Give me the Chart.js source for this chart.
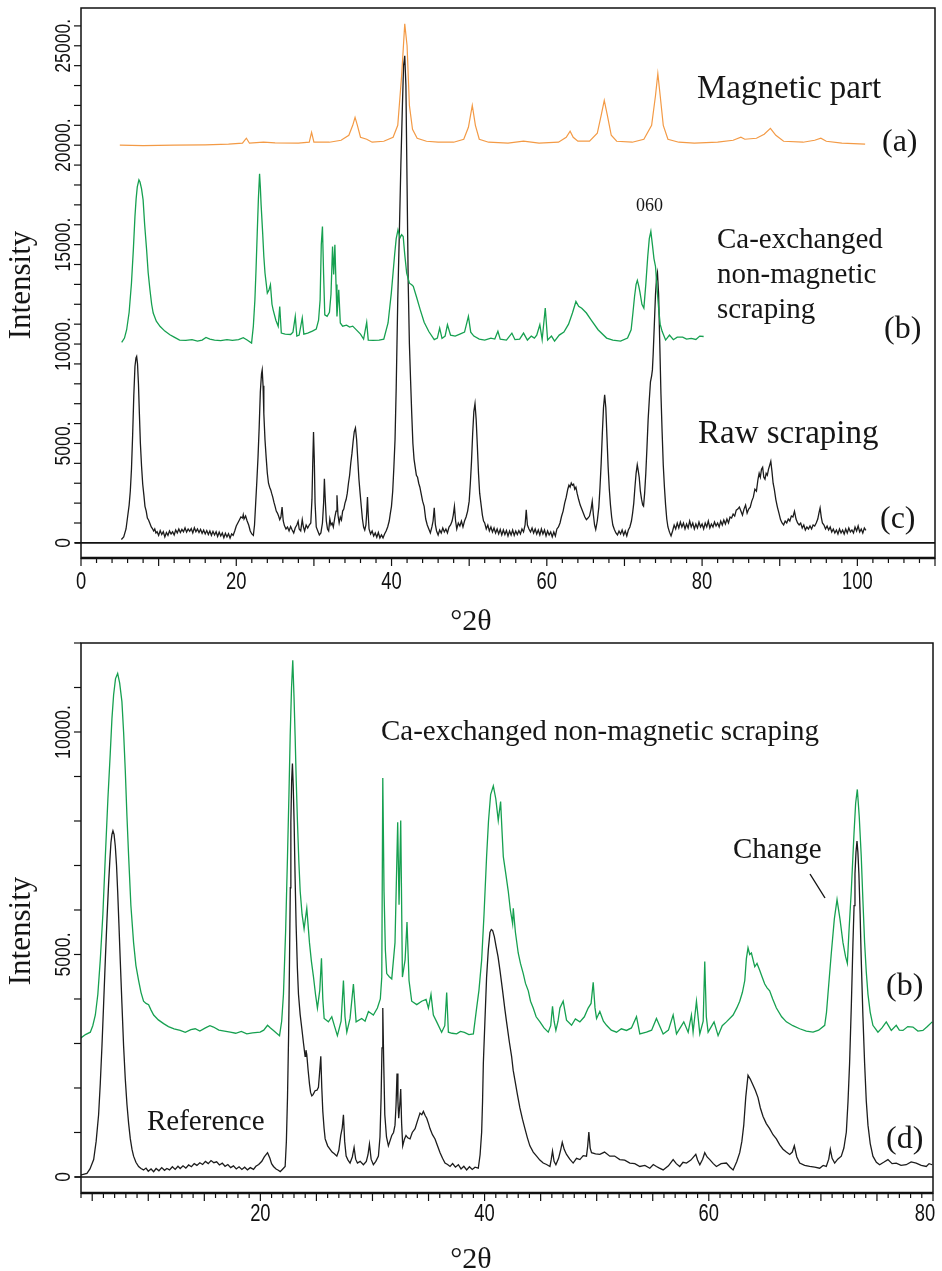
<!DOCTYPE html>
<html><head><meta charset="utf-8">
<script src="https://cdn.jsdelivr.net/npm/chart.js@4.4.1/dist/chart.umd.min.js"></script>
<style>
body{margin:0;background:#fff;width:942px;height:1271px;overflow:hidden;position:relative}
.wrap{position:absolute;left:0;width:942px}
#w1{top:0;height:640px}
#w2{top:640px;height:631px}
</style></head><body>
<div class="wrap" id="w1"><canvas id="c1" width="942" height="640"></canvas></div>
<div class="wrap" id="w2"><canvas id="c2" width="942" height="631"></canvas></div>
<script>
// ---------- DATA (2theta, intensity) ----------
const magneticPart = [[5.0,20000],[8.0,19980],[12.0,20000],[16.0,20020],[19.0,20050],[20.8,20100],[21.3,20350],[21.7,20100],[23.5,20150],[25.0,20120],[28.0,20100],[29.4,20150],[29.7,20650],[30.0,20150],[32.0,20150],[33.5,20250],[34.5,20500],[35.0,21000],[35.3,21400],[35.6,21000],[36.0,20400],[36.8,20300],[37.5,20150],[39.0,20200],[40.2,20400],[40.8,21000],[41.3,23500],[41.7,26100],[42.0,25000],[42.3,22000],[42.7,20800],[43.3,20350],[44.5,20200],[46.0,20150],[48.0,20150],[49.3,20300],[49.9,20900],[50.4,22000],[50.8,21000],[51.3,20300],[52.5,20150],[55.0,20100],[57.0,20200],[59.0,20100],[61.5,20150],[62.5,20400],[63.0,20700],[63.4,20400],[64.0,20200],[65.5,20200],[66.5,20600],[67.0,21500],[67.4,22250],[67.8,21500],[68.3,20500],[69.0,20200],[71.0,20150],[72.5,20300],[73.5,21000],[74.0,22500],[74.3,23600],[74.6,22500],[75.0,21000],[75.6,20300],[77.0,20150],[79.0,20100],[82.0,20150],[84.0,20250],[85.0,20400],[85.5,20300],[87.0,20350],[88.0,20550],[88.8,20850],[89.5,20500],[90.5,20200],[93.0,20150],[94.5,20250],[95.3,20350],[96.0,20200],[98.0,20100],[101.0,20050]];

const caExchangedTop = [[5.24,10080],[5.6,10300],[5.88,10720],[6.2,11600],[6.5,13060],[6.75,14800],[6.95,16410],[7.1,17300],[7.25,17900],[7.46,18260],[7.6,18150],[7.8,17800],[8.0,17250],[8.2,16000],[8.45,14740],[8.65,13600],[8.88,12730],[9.1,12000],[9.3,11560],[9.7,11150],[10.2,10880],[10.8,10650],[11.45,10470],[12.0,10350],[12.7,10200],[13.5,10180],[14.3,10220],[15.0,10150],[15.6,10200],[16.1,10330],[16.6,10250],[17.2,10200],[18.0,10170],[18.8,10220],[19.5,10180],[20.3,10220],[20.9,10320],[21.4,10200],[21.97,10050],[22.2,10900],[22.4,12230],[22.55,13800],[22.7,15580],[22.85,17300],[23.0,18560],[23.1,17900],[23.2,17000],[23.4,15580],[23.55,14400],[23.7,13570],[24.0,12560],[24.2,12700],[24.4,12980],[24.6,12000],[24.75,11720],[25.1,11200],[25.4,10890],[25.6,11890],[25.8,10550],[26.3,10500],[27.0,10480],[27.3,10600],[27.6,11390],[27.8,10400],[28.1,10450],[28.5,11310],[28.7,10500],[29.2,10550],[29.8,10650],[30.3,10750],[30.6,11200],[30.8,12230],[30.95,15000],[31.1,15910],[31.25,13500],[31.4,11470],[31.7,11390],[32.0,11600],[32.2,12500],[32.4,14900],[32.55,13500],[32.7,14990],[32.85,13000],[32.97,11390],[33.2,12730],[33.4,11060],[33.7,10900],[34.2,10950],[34.6,10850],[35.0,10900],[35.5,10700],[36.0,10500],[36.4,10250],[36.8,11090],[37.0,10200],[37.6,10180],[38.4,10200],[39.0,10250],[39.55,11060],[39.97,12560],[40.2,13600],[40.4,14500],[40.6,15300],[40.83,15740],[41.1,15350],[41.3,15500],[41.5,15410],[41.7,14500],[41.95,13570],[42.3,13060],[42.6,12980],[42.8,12900],[43.2,12390],[43.7,11720],[44.2,11100],[44.8,10630],[45.5,10220],[45.9,10300],[46.2,10800],[46.5,10280],[46.9,10400],[47.2,10970],[47.6,10450],[48.2,10400],[48.8,10500],[49.4,10600],[49.9,11390],[50.2,10600],[50.6,10400],[51.3,10250],[52.0,10200],[52.8,10300],[53.3,10250],[53.7,10640],[54.0,10250],[54.8,10200],[55.5,10550],[55.9,10220],[56.5,10250],[57.0,10550],[57.5,10200],[58.0,10400],[58.4,10300],[58.7,10450],[59.1,10970],[59.4,10220],[59.8,11810],[60.1,10200],[60.6,10400],[61.0,10150],[61.6,10450],[62.2,10600],[62.8,11000],[63.3,11560],[63.75,12140],[64.1,11900],[64.5,11800],[65.1,11560],[65.7,11220],[66.6,10720],[67.7,10300],[68.5,10200],[69.5,10150],[70.4,10300],[70.86,10720],[71.1,11600],[71.3,12390],[71.5,13000],[71.66,13200],[71.85,12900],[72.0,12600],[72.25,12000],[72.5,11810],[72.75,13000],[73.0,14400],[73.2,15300],[73.4,15660],[73.6,15000],[73.8,14300],[74.0,13900],[74.2,12800],[74.4,11810],[74.6,11000],[74.85,10640],[75.3,10200],[75.8,10450],[76.3,10220],[76.8,10350],[77.5,10350],[78.0,10250],[78.6,10280],[79.2,10230],[79.7,10400],[80.2,10380]];

const rawScraping = [[5.2,170],[5.5,300],[5.8,700],[6.0,1300],[6.2,1900],[6.35,2600],[6.5,3700],[6.65,5400],[6.8,7400],[6.95,8870],[7.08,9300],[7.17,9380],[7.28,9000],[7.4,8000],[7.52,6500],[7.65,5000],[7.8,3850],[7.95,2950],[8.1,2400],[8.24,1840],[8.4,1600],[8.55,1250],[8.7,1150],[8.88,980],[9.05,800],[9.2,720],[9.35,600],[9.5,700],[9.65,500],[9.8,560],[10.0,380],[10.2,620],[10.4,420],[10.6,560],[10.8,300],[11.0,520],[11.2,380],[11.4,600],[11.6,450],[11.8,560],[12.0,400],[12.2,650],[12.4,500],[12.6,700],[12.8,520],[13.0,680],[13.2,560],[13.4,760],[13.6,540],[13.8,700],[14.0,580],[14.2,720],[14.4,500],[14.6,760],[14.8,560],[15.0,700],[15.2,520],[15.4,680],[15.6,480],[15.8,640],[16.0,450],[16.2,620],[16.4,420],[16.6,600],[16.8,380],[17.0,580],[17.2,400],[17.4,560],[17.6,320],[17.8,540],[18.0,350],[18.2,500],[18.4,260],[18.6,480],[18.8,300],[19.0,460],[19.2,240],[19.4,450],[19.6,380],[19.8,600],[20.0,850],[20.2,1000],[20.4,1150],[20.6,1300],[20.8,1250],[20.9,1420],[21.0,1200],[21.2,1350],[21.4,1100],[21.6,900],[21.8,600],[22.0,450],[22.2,380],[22.35,900],[22.5,2000],[22.65,3100],[22.8,4300],[22.95,5800],[23.1,7600],[23.25,8500],[23.34,8700],[23.45,7900],[23.55,6500],[23.7,5190],[23.85,4300],[24.0,3500],[24.15,3000],[24.3,2800],[24.45,2650],[24.55,2500],[24.7,2300],[24.85,2050],[25.0,1840],[25.15,1600],[25.3,1500],[25.45,1350],[25.6,1170],[25.75,1300],[25.9,1800],[26.05,1100],[26.2,870],[26.4,700],[26.6,800],[26.8,600],[27.0,820],[27.2,650],[27.4,500],[27.6,760],[27.8,900],[27.97,1090],[28.1,700],[28.3,600],[28.5,1170],[28.65,800],[28.8,600],[29.0,900],[29.2,750],[29.4,900],[29.6,1000],[29.75,2200],[29.85,4000],[29.95,5580],[30.05,4200],[30.15,2000],[30.3,800],[30.5,600],[30.7,400],[30.9,500],[31.1,1000],[31.25,2000],[31.35,3230],[31.45,2300],[31.6,1100],[31.75,700],[31.9,600],[32.05,1200],[32.2,900],[32.35,1000],[32.5,800],[32.7,1300],[32.85,1600],[32.97,2390],[33.1,1400],[33.25,1000],[33.4,1300],[33.55,1150],[33.7,1600],[33.85,1700],[34.0,2000],[34.15,2180],[34.3,2500],[34.45,3000],[34.6,3400],[34.75,4020],[34.9,4500],[35.05,5100],[35.2,5600],[35.35,5780],[35.5,5200],[35.65,4190],[35.8,3200],[35.95,2500],[36.1,1840],[36.25,1200],[36.4,800],[36.55,650],[36.7,900],[36.8,1500],[36.9,2310],[37.0,1400],[37.1,700],[37.3,450],[37.5,600],[37.7,350],[37.9,500],[38.1,280],[38.3,520],[38.5,250],[38.7,400],[38.9,250],[39.1,450],[39.3,600],[39.5,800],[39.7,1100],[39.85,1500],[39.99,1840],[40.15,2600],[40.3,3800],[40.45,5200],[40.6,7800],[40.8,12230],[41.0,15500],[41.2,19000],[41.4,22000],[41.55,24000],[41.7,24500],[41.85,23000],[42.0,18000],[42.15,13000],[42.3,10000],[42.45,8200],[42.6,6500],[42.75,5000],[42.9,4200],[43.05,3800],[43.2,3400],[43.35,3300],[43.5,3000],[43.65,2800],[43.8,2500],[44.0,2100],[44.2,1840],[44.4,1200],[44.6,900],[44.8,700],[45.0,500],[45.2,800],[45.35,1100],[45.5,1760],[45.65,900],[45.8,600],[46.0,400],[46.2,650],[46.4,500],[46.6,750],[46.8,550],[47.0,700],[47.2,500],[47.4,800],[47.6,900],[47.8,1100],[47.95,1400],[48.1,1840],[48.25,1100],[48.4,700],[48.6,1000],[48.8,850],[49.0,1100],[49.2,800],[49.4,1100],[49.6,1300],[49.8,1600],[50.0,2100],[50.15,3000],[50.3,4100],[50.45,5500],[50.6,6600],[50.75,7000],[50.9,6200],[51.05,4900],[51.2,3500],[51.35,2500],[51.56,1840],[51.7,1400],[51.85,1100],[52.0,1000],[52.2,700],[52.4,900],[52.6,600],[52.8,800],[53.0,550],[53.2,750],[53.4,500],[53.6,700],[53.8,450],[54.0,680],[54.2,400],[54.4,650],[54.6,420],[54.8,620],[55.0,350],[55.2,600],[55.4,400],[55.6,650],[55.8,380],[56.0,600],[56.2,420],[56.4,620],[56.6,450],[56.8,700],[57.0,550],[57.2,900],[57.35,1670],[57.5,900],[57.7,700],[57.9,550],[58.1,750],[58.3,500],[58.5,700],[58.7,450],[58.9,650],[59.1,400],[59.3,700],[59.5,450],[59.7,650],[59.9,350],[60.1,600],[60.3,400],[60.5,550],[60.7,300],[60.9,550],[61.1,350],[61.3,700],[61.5,800],[61.7,1000],[61.9,1340],[62.1,1600],[62.3,2000],[62.5,2300],[62.7,2700],[62.85,2900],[63.0,2800],[63.15,3010],[63.3,2900],[63.45,2950],[63.6,2700],[63.75,2800],[63.9,2500],[64.1,2180],[64.3,1900],[64.5,1700],[64.7,1500],[64.9,1300],[65.1,1170],[65.3,1250],[65.5,1350],[65.7,1700],[65.85,2090],[66.0,1400],[66.15,900],[66.3,670],[66.5,1100],[66.7,1800],[66.85,2800],[67.0,4000],[67.15,5500],[67.3,6800],[67.45,7450],[67.6,6800],[67.75,5300],[67.9,3800],[68.05,2700],[68.2,1900],[68.35,1300],[68.5,900],[68.7,670],[68.9,500],[69.1,400],[69.3,600],[69.5,450],[69.7,650],[69.9,400],[70.1,600],[70.3,350],[70.5,650],[70.7,800],[70.9,1100],[71.05,1500],[71.2,2000],[71.35,2800],[71.5,3500],[71.65,3930],[71.75,3700],[71.9,3300],[72.05,2600],[72.2,2200],[72.35,1900],[72.46,1840],[72.6,2500],[72.75,3500],[72.9,4800],[73.05,6200],[73.2,7200],[73.35,8100],[73.5,8400],[73.6,8700],[73.7,9500],[73.85,11000],[74.0,12500],[74.15,13400],[74.25,13600],[74.4,12500],[74.55,10000],[74.7,7500],[74.85,5600],[75.0,3900],[75.15,2800],[75.3,1900],[75.45,1200],[75.6,800],[75.8,540],[76.0,350],[76.2,600],[76.4,900],[76.6,700],[76.8,1000],[77.0,750],[77.2,1050],[77.4,800],[77.6,1000],[77.8,700],[78.0,950],[78.2,750],[78.4,1100],[78.6,800],[78.8,1000],[79.0,700],[79.2,950],[79.4,750],[79.6,1050],[79.8,800],[80.0,950],[80.2,700],[80.4,1000],[80.6,800],[80.8,1100],[81.0,750],[81.2,950],[81.4,800],[81.6,1050],[81.8,850],[82.0,1000],[82.2,800],[82.4,1100],[82.6,900],[82.8,1150],[83.0,950],[83.2,1200],[83.4,1000],[83.6,1300],[83.8,1250],[84.0,1450],[84.2,1350],[84.4,1650],[84.6,1700],[84.8,1800],[85.0,1600],[85.2,1400],[85.4,1700],[85.6,1900],[85.8,1500],[86.0,1700],[86.2,1800],[86.4,2100],[86.6,2300],[86.8,2700],[87.0,2600],[87.2,3200],[87.35,3500],[87.5,3300],[87.65,3700],[87.8,3800],[87.95,3300],[88.1,3200],[88.25,3500],[88.4,3400],[88.55,3700],[88.7,3900],[88.85,4100],[89.0,3600],[89.15,3000],[89.3,2700],[89.5,2180],[89.7,1800],[89.9,1500],[90.1,1170],[90.3,1000],[90.5,900],[90.7,1100],[90.9,1000],[91.1,1200],[91.3,1100],[91.5,1350],[91.7,1300],[91.9,1590],[92.1,1200],[92.3,1000],[92.5,900],[92.7,1000],[92.9,750],[93.1,900],[93.3,650],[93.5,800],[93.7,700],[93.9,850],[94.1,700],[94.3,900],[94.5,850],[94.7,1000],[94.9,1200],[95.05,1500],[95.2,1760],[95.35,1300],[95.5,1000],[95.7,900],[95.9,700],[96.1,850],[96.3,650],[96.5,800],[96.7,550],[96.9,700],[97.1,500],[97.3,650],[97.5,450],[97.7,700],[97.9,500],[98.1,650],[98.3,450],[98.5,700],[98.7,500],[98.9,750],[99.1,550],[99.3,650],[99.5,500],[99.7,800],[99.9,600],[100.1,850],[100.3,550],[100.5,700],[100.7,500],[100.9,750],[101.1,630]];

const caExchangedBottom = [[3.94,3115],[4.4,3200],[4.83,3254],[5.05,3400],[5.28,3640],[5.5,4100],[5.72,4879],[5.95,5900],[6.17,7200],[6.4,8500],[6.61,9522],[6.76,10300],[6.91,10837],[7.08,11200],[7.27,11317],[7.45,11100],[7.65,10682],[7.8,10000],[7.95,9135],[8.1,8100],[8.25,7200],[8.45,6100],[8.69,5266],[8.9,4750],[9.14,4415],[9.35,4150],[9.58,3950],[9.8,3900],[10.03,3873],[10.25,3750],[10.48,3640],[10.9,3530],[11.37,3447],[11.8,3380],[12.3,3330],[12.85,3293],[13.3,3250],[13.8,3310],[14.19,3331],[14.6,3280],[15.1,3350],[15.5,3400],[15.82,3370],[16.3,3300],[16.8,3280],[17.31,3254],[17.8,3230],[18.3,3270],[18.79,3215],[19.3,3240],[19.98,3254],[20.3,3300],[20.64,3409],[20.9,3350],[21.17,3293],[21.45,3230],[21.71,3176],[21.9,3500],[22.06,4105],[22.25,5500],[22.42,7200],[22.55,8600],[22.66,9909],[22.78,11000],[22.89,11611],[23.0,10800],[23.1,9909],[23.2,8900],[23.31,7974],[23.43,7100],[23.55,6426],[23.72,5900],[23.9,5575],[24.14,6039],[24.38,5266],[24.55,4850],[24.74,4492],[24.92,4100],[25.09,3796],[25.3,4200],[25.45,4917],[25.57,4000],[25.69,3563],[26.07,3486],[26.37,3602],[26.6,3400],[26.87,3176],[27.2,3500],[27.41,4415],[27.55,3600],[27.71,3254],[28.0,3563],[28.3,4337],[28.54,3486],[29.04,3563],[29.34,3500],[29.64,3718],[30.08,3640],[30.44,3796],[30.7,4000],[30.83,4492],[30.92,8964],[31.03,6426],[31.15,5100],[31.27,4570],[31.5,4500],[31.72,4453],[32.01,5266],[32.25,7974],[32.37,6117],[32.52,8013],[32.67,4492],[32.91,4879],[33.08,5730],[33.26,4415],[33.5,3950],[33.95,3873],[34.39,3950],[34.78,3989],[34.99,3796],[35.22,4105],[35.43,3640],[35.73,3486],[36.17,3254],[36.45,3400],[36.62,4144],[36.77,3254],[37.1,3230],[37.51,3215],[37.85,3270],[38.2,3250],[38.6,3200],[39.0,3215],[39.29,3796],[39.5,4200],[39.74,4879],[39.95,5900],[40.18,7200],[40.35,8000],[40.54,8593],[40.78,8786],[41.0,8500],[41.22,8013],[41.43,8438],[41.55,7800],[41.67,7200],[41.9,6800],[42.11,6426],[42.3,6000],[42.5,5691],[42.56,6039],[42.75,5500],[43.0,5034],[43.2,4800],[43.45,4570],[43.65,4350],[43.9,4183],[44.1,3950],[44.34,3796],[44.6,3600],[44.94,3486],[45.3,3350],[45.68,3254],[45.9,3400],[46.06,3834],[46.2,3500],[46.36,3293],[46.55,3500],[46.72,3796],[47.01,3950],[47.31,3525],[47.76,3409],[48.1,3550],[48.5,3486],[48.9,3600],[49.24,3796],[49.5,3900],[49.69,4376],[49.85,3800],[49.99,3563],[50.28,3718],[50.6,3500],[50.88,3409],[51.3,3300],[51.77,3254],[52.2,3330],[52.66,3293],[53.1,3350],[53.55,3602],[53.85,3215],[54.44,3254],[54.9,3300],[55.33,3563],[55.93,3215],[56.4,3300],[56.82,3640],[57.12,3215],[57.77,3486],[58.16,3254],[58.45,3640],[58.6,3254],[58.9,3950],[59.2,3215],[59.5,3500],[59.64,4840],[59.78,3600],[59.94,3254],[60.47,3486],[60.83,3176],[61.2,3400],[61.57,3486],[62.17,3640],[62.5,3800],[62.76,3950],[63.0,4150],[63.21,4415],[63.35,4900],[63.5,5150],[63.65,5000],[63.8,5034],[64.1,4724],[64.3,4800],[64.54,4647],[64.75,4500],[64.99,4337],[65.2,4250],[65.43,4183],[65.7,4000],[66.03,3796],[66.5,3600],[66.92,3486],[67.5,3400],[68.11,3331],[68.7,3280],[69.3,3254],[69.8,3300],[70.34,3409],[70.5,3700],[70.63,4105],[70.93,5034],[71.2,5800],[71.44,6233],[71.7,5800],[71.97,5266],[72.2,4950],[72.36,4802],[72.5,5500],[72.71,6426],[72.95,7700],[73.1,8400],[73.25,8709],[73.42,8100],[73.6,7200],[73.75,6200],[73.9,5266],[74.05,4600],[74.2,4105],[74.4,3700],[74.64,3409],[75.09,3254],[75.45,3350],[75.83,3486],[76.28,3293],[76.72,3409],[77.0,3300],[77.32,3293],[77.75,3380],[78.21,3370],[78.65,3280],[79.1,3293],[79.5,3380],[79.93,3486]];

const referenceD = [[3.94,43],[4.2,60],[4.53,81],[4.8,180],[5.13,391],[5.35,800],[5.57,1397],[5.72,2100],[5.87,2944],[6.02,3900],[6.17,4879],[6.32,5800],[6.46,6581],[6.57,7100],[6.67,7510],[6.76,7700],[6.85,7781],[6.95,7700],[7.06,7433],[7.17,7000],[7.27,6426],[7.38,5700],[7.5,4879],[7.65,3900],[7.8,2944],[7.95,2200],[8.1,1629],[8.25,1200],[8.4,855],[8.55,620],[8.69,468],[8.9,330],[9.14,236],[9.35,190],[9.58,159],[9.8,200],[10.0,130],[10.25,180],[10.48,120],[10.7,190],[10.95,140],[11.2,210],[11.45,150],[11.66,190],[11.9,160],[12.15,230],[12.4,170],[12.65,240],[12.85,190],[13.1,250],[13.35,200],[13.6,270],[13.85,230],[14.1,300],[14.34,260],[14.6,320],[14.85,280],[15.1,350],[15.35,300],[15.6,370],[15.85,320],[16.1,340],[16.35,270],[16.6,310],[16.85,240],[17.1,280],[17.35,210],[17.6,250],[17.85,180],[18.1,230],[18.35,170],[18.6,220],[18.85,160],[19.1,210],[19.39,170],[19.6,240],[19.85,280],[20.13,352],[20.35,450],[20.64,546],[20.85,420],[21.0,300],[21.17,236],[21.4,180],[21.6,150],[21.77,120],[22.0,180],[22.21,236],[22.32,800],[22.42,1784],[22.52,3200],[22.6,4879],[22.67,6500],[22.72,7974],[22.79,8900],[22.86,9290],[22.93,8800],[23.01,7974],[23.1,6700],[23.19,5653],[23.3,4700],[23.4,4105],[23.55,3650],[23.7,3331],[23.85,3000],[23.99,2712],[24.07,2850],[24.14,2751],[24.26,2400],[24.38,2093],[24.48,1900],[24.59,1823],[24.7,1850],[24.88,1939],[25.05,1950],[25.18,2016],[25.3,2400],[25.39,2712],[25.48,2000],[25.57,1474],[25.68,1100],[25.78,855],[26.0,700],[26.22,623],[26.4,560],[26.6,520],[26.82,468],[27.0,600],[27.17,933],[27.3,1100],[27.41,1397],[27.52,800],[27.65,468],[27.82,380],[28.0,313],[28.2,450],[28.36,662],[28.5,400],[28.66,313],[28.9,350],[29.19,275],[29.45,350],[29.6,500],[29.73,739],[29.88,400],[30.08,275],[30.3,350],[30.53,468],[30.67,900],[30.77,1784],[30.85,2900],[30.92,3796],[31.0,2600],[31.1,1397],[31.25,900],[31.42,700],[31.55,800],[31.72,933],[31.88,1000],[32.01,1165],[32.1,1600],[32.19,2325],[32.27,1700],[32.34,1320],[32.43,1600],[32.52,1978],[32.6,1200],[32.7,700],[32.85,850],[32.99,933],[33.15,880],[33.35,855],[33.55,1000],[33.8,1087],[34.0,1250],[34.24,1436],[34.4,1400],[34.54,1474],[34.7,1380],[34.84,1320],[35.0,1200],[35.13,1087],[35.35,950],[35.58,855],[35.8,700],[36.03,546],[36.25,420],[36.47,313],[36.7,280],[36.92,236],[37.15,300],[37.4,220],[37.66,275],[37.9,180],[38.15,240],[38.4,159],[38.65,230],[38.9,170],[39.15,220],[39.44,197],[39.6,500],[39.74,1010],[39.82,1700],[39.89,2557],[40.03,3500],[40.18,4492],[40.33,5100],[40.48,5498],[40.6,5560],[40.72,5537],[40.87,5400],[41.02,5189],[41.2,4950],[41.37,4647],[41.6,4200],[41.82,3750],[41.96,3486],[42.2,3050],[42.41,2712],[42.55,2400],[42.71,2170],[42.93,1850],[43.15,1552],[43.38,1300],[43.6,1087],[43.82,880],[44.04,700],[44.34,560],[44.64,468],[44.93,380],[45.23,313],[45.53,280],[45.83,236],[45.95,400],[46.06,584],[46.2,350],[46.36,275],[46.6,420],[46.78,600],[46.93,778],[47.1,620],[47.31,507],[47.6,400],[47.9,313],[48.2,420],[48.5,391],[48.8,480],[49.09,468],[49.2,700],[49.3,1010],[49.42,650],[49.54,546],[49.9,520],[50.28,507],[50.7,560],[51.17,468],[51.6,470],[52.06,391],[52.5,380],[52.96,313],[53.4,300],[53.85,236],[54.3,260],[54.74,197],[55.05,280],[55.33,236],[55.6,200],[55.93,159],[56.4,250],[56.82,391],[57.1,300],[57.41,236],[57.7,330],[58.01,313],[58.4,380],[58.84,507],[59.0,380],[59.2,275],[59.45,400],[59.64,546],[59.85,450],[60.09,391],[60.4,300],[60.68,236],[61.1,300],[61.57,313],[61.9,220],[62.17,159],[62.5,350],[62.76,546],[62.95,800],[63.12,1165],[63.3,1800],[63.5,2287],[63.7,2200],[63.89,2093],[64.15,1950],[64.39,1784],[64.6,1550],[64.84,1358],[65.13,1200],[65.43,1087],[65.73,950],[66.03,855],[66.33,720],[66.62,623],[66.92,560],[67.22,507],[67.45,560],[67.63,700],[67.85,450],[68.11,313],[68.55,260],[69.0,236],[69.45,220],[69.89,197],[70.2,260],[70.48,236],[70.7,400],[70.84,623],[71.0,420],[71.23,313],[71.5,400],[71.82,468],[72.05,650],[72.27,1010],[72.42,1700],[72.56,2557],[72.72,3900],[72.86,5266],[72.96,6100],[73.04,6813],[73.13,7300],[73.22,7549],[73.3,7300],[73.39,6813],[73.5,5900],[73.6,4879],[73.75,3600],[73.9,2557],[74.05,1700],[74.2,1165],[74.4,750],[74.64,468],[74.95,330],[75.24,275],[75.6,330],[75.98,391],[76.35,300],[76.72,313],[77.15,260],[77.61,275],[78.05,340],[78.5,313],[78.95,260],[79.4,236],[79.65,300],[79.93,275]];

// tick labels
const topXTickLabels = [0,20,40,60,80,100];
const topYTickLabels = [0,5000,10000,15000,20000,25000];
const bottomXTickLabels = [20,40,60,80];
const bottomYTickLabels = [0,5000,10000];

// ---------- STYLE ----------
const ORANGE = '#F39A45', GREEN = '#16A050', BLACK = '#1c1c1c';
const SERIF = '"Liberation Serif","Times New Roman",serif';
const SANS = '"Liberation Sans",Arial,sans-serif';

function xy(arr){ return arr.map(p => ({x:p[0], y:p[1]})); }
function ds(arr, color, w){ return {data: xy(arr), borderColor: color, borderWidth: w, pointRadius: 0, tension: 0, fill:false}; }

function narrowText(ctx, text, x, y, size, rotate, align){
  ctx.save();
  ctx.translate(x, y);
  if (rotate) ctx.rotate(-Math.PI/2);
  ctx.scale(0.8, 1);
  ctx.font = size + 'px ' + SANS;
  ctx.fillStyle = '#111';
  ctx.textAlign = align || 'center';
  ctx.textBaseline = 'middle';
  ctx.fillText(text, 0, 0);
  ctx.restore();
}
function serifText(ctx, text, x, y, size, rotate, align){
  ctx.save();
  ctx.translate(x, y);
  if (rotate) ctx.rotate(-Math.PI/2);
  ctx.font = size + 'px ' + SERIF;
  ctx.fillStyle = '#161616';
  ctx.textAlign = align || 'left';
  ctx.textBaseline = rotate ? 'middle' : 'alphabetic';
  ctx.fillText(text, 0, 0);
  ctx.restore();
}

function axesPlugin(spec){
  return {
    id: 'axesDeco',
    afterDraw(chart){
      const ctx = chart.ctx, a = chart.chartArea;
      const xs = chart.scales.x, ys = chart.scales.y;
      ctx.save();
      ctx.strokeStyle = '#111';
      const y0 = ys.getPixelForValue(0);
      ctx.lineWidth = 1.6;
      ctx.beginPath(); ctx.moveTo(a.left - 6, y0); ctx.lineTo(a.right, y0); ctx.stroke();
      ctx.lineWidth = 1.5;
      ctx.strokeRect(a.left, a.top, a.right - a.left, a.bottom - a.top);
      ctx.lineWidth = 2.6;
      ctx.beginPath(); ctx.moveTo(a.left, a.bottom); ctx.lineTo(a.right, a.bottom); ctx.stroke();
      ctx.lineWidth = 1.2;
      for (let v = spec.xMin; v <= spec.xMax + 1e-9; v += spec.xMinor) {
        const px = xs.getPixelForValue(v);
        const major = Math.abs(v / spec.xMajor - Math.round(v / spec.xMajor)) < 1e-6;
        ctx.beginPath(); ctx.moveTo(px, a.bottom); ctx.lineTo(px, a.bottom + (major ? 8 : 5)); ctx.stroke();
      }
      for (let v = 0; v <= spec.yMax; v += spec.yMinor) {
        const py = ys.getPixelForValue(v);
        ctx.beginPath(); ctx.moveTo(a.left - 7, py); ctx.lineTo(a.left, py); ctx.stroke();
      }
      spec.xLabels.forEach(v => {
        let px = xs.getPixelForValue(v);
        if (px > a.right - 8) px = a.right - 8;
        narrowText(ctx, String(v), px, a.bottom + spec.xLabelOffset, 23, false);
      });
      spec.yLabels.forEach(v => {
        const py = ys.getPixelForValue(v);
        narrowText(ctx, v === 0 ? '0' : v + '.', 64, py, 22, true);
      });
      serifText(ctx, 'Intensity', 22, spec.yTitleY, 31, true, 'center');
      serifText(ctx, '\u00B02\u03B8', 471, spec.xTitleY, 30, false, 'center');
      spec.texts.forEach(t => serifText(ctx, t[0], t[1], t[2], t[3], false, 'left'));
      if (spec.lines) spec.lines.forEach(l => {
        ctx.lineWidth = 1.4; ctx.beginPath(); ctx.moveTo(l[0], l[1]); ctx.lineTo(l[2], l[3]); ctx.stroke();
      });
      ctx.restore();
    }
  };
}

function scaleOpts(min, max, size, horiz){
  return {
    type: 'linear', min: min, max: max,
    grid: {display: false}, border: {display: false},
    ticks: {display: false},
    afterFit(s){ if (horiz) s.height = size; else s.width = size; }
  };
}

// ---------- TOP PANEL ----------
new Chart(document.getElementById('c1'), {
  type: 'line',
  data: { datasets: [ ds(magneticPart, ORANGE, 1.2), ds(caExchangedTop, GREEN, 1.3), ds(rawScraping, BLACK, 1.3) ] },
  options: {
    responsive: false, animation: false,
    layout: { padding: {left: 0, right: 7, top: 8, bottom: 0} },
    plugins: { legend: {display: false}, tooltip: {enabled: false} },
    scales: { x: scaleOpts(0, 110, 82, true), y: scaleOpts(-760, 26900, 81, false) }
  },
  plugins: [axesPlugin({
    xMin: 0, xMax: 110, xMinor: 2, xMajor: 10, xLabels: topXTickLabels, xLabelOffset: 25,
    yMax: 26000, yMinor: 1000, yLabels: topYTickLabels,
    yTitleY: 285, xTitleY: 630,
    texts: [
      ['Magnetic part', 697, 98, 33],
      ['(a)', 882, 151, 32],
      ['060', 636, 211, 18],
      ['Ca-exchanged', 717, 248, 29],
      ['non-magnetic', 717, 283, 29],
      ['scraping', 717, 318, 29],
      ['(b)', 884, 338, 32],
      ['Raw scraping', 698, 443, 33],
      ['(c)', 880, 528, 32]
    ]
  })]
});

// ---------- BOTTOM PANEL ----------
new Chart(document.getElementById('c2'), {
  type: 'line',
  data: { datasets: [ ds(caExchangedBottom, GREEN, 1.3), ds(referenceD, BLACK, 1.3) ] },
  options: {
    responsive: false, animation: false,
    layout: { padding: {left: 0, right: 9, top: 3, bottom: 0} },
    plugins: { legend: {display: false}, tooltip: {enabled: false} },
    scales: { x: scaleOpts(4, 80, 78, true), y: scaleOpts(-360, 12000, 81, false) }
  },
  plugins: [axesPlugin({
    xMin: 4, xMax: 80, xMinor: 1, xMajor: 5, xLabels: bottomXTickLabels, xLabelOffset: 22,
    yMax: 12000, yMinor: 1000, yLabels: bottomYTickLabels,
    yTitleY: 291, xTitleY: 628,
    texts: [
      ['Ca-exchanged non-magnetic scraping', 381, 100, 29],
      ['Change', 733, 218, 29],
      ['(b)', 886, 355, 32],
      ['Reference', 147, 490, 29],
      ['(d)', 886, 508, 32]
    ],
    lines: [[810, 234, 825, 258]]
  })]
});
</script>
</body></html>
